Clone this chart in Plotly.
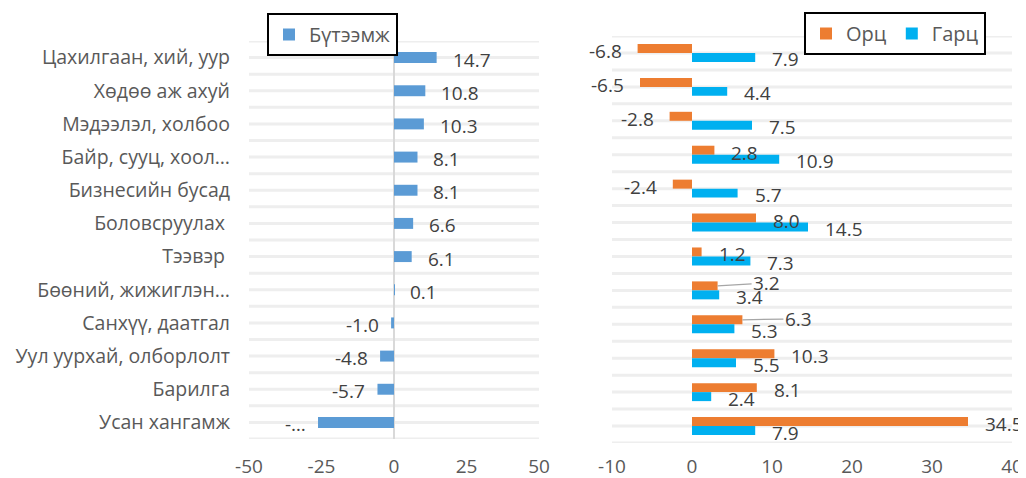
import plotly.graph_objects as go

categories = ["Цахилгаан, хий, уур", "Хөдөө аж ахуй", "Мэдээлэл, холбоо",
              "Байр, сууц, хоол…", "Бизнесийн бусад", "Боловсруулах\u00a0",
              "Тээвэр\u00a0", "Бөөний, жижиглэн…", "Санхүү, даатгал",
              "Уул уурхай, олборлолт", "Барилга", "Усан хангамж"]
productivity = [14.7, 10.8, 10.3, 8.1, 8.1, 6.6, 6.1, 0.1, -1.0, -4.8, -5.7, -26.2]
productivity_text = ["14.7", "10.8", "10.3", "8.1", "8.1", "6.6", "6.1", "0.1",
                     "-1.0", "-4.8", "-5.7", "-…"]
input_vals = [-6.8, -6.5, -2.8, 2.8, -2.4, 8.0, 1.2, 3.2, 6.3, 10.3, 8.1, 34.5]
output_vals = [7.9, 4.4, 7.5, 10.9, 5.7, 14.5, 7.3, 3.4, 5.3, 5.5, 2.4, 7.9]
left_ticks = [-50, -25, 0, 25, 50]
left_tick_text = ["-50", "-25", "0", "25", "50"]
right_ticks = [-10, 0, 10, 20, 30, 40]
right_tick_text = ["-10", "0", "10", "20", "30", "40"]

FONT = "Open Sans"
LBL = "#404040"
AX = "#595959"
GRID = "#eeeeee"
OFF = 8                      # page body margin in the browser
W, H = 1026 - OFF, 478 - OFF
VAL_SIZE = 19
CAT_SIZE = 19.5


def px(v):
    return (v - OFF) / W


def py(v):
    return 1 - (v - OFF) / H


fig = go.Figure()
fig.add_trace(go.Bar(y=categories, x=productivity, orientation="h", name="Бүтээмж",
                     marker_color="#5B9BD5", width=0.33, offset=-0.165,
                     xaxis="x", yaxis="y", legend="legend"))
fig.add_trace(go.Bar(y=categories, x=input_vals, orientation="h", name="Орц",
                     marker_color="#ED7D31", width=0.265, offset=-0.265,
                     xaxis="x2", yaxis="y2", legend="legend2"))
fig.add_trace(go.Bar(y=categories, x=output_vals, orientation="h", name="Гарц",
                     marker_color="#00B0F0", width=0.265, offset=0.0,
                     xaxis="x2", yaxis="y2", legend="legend2"))

ann = []
for c, v, t in zip(categories, productivity, productivity_text):
    pos = v >= 0
    ann.append(dict(x=v, y=c, xref="x", yref="y", text=t, showarrow=False,
                    xanchor="left" if pos else "right", xshift=14 if pos else -10,
                    yshift=-2, font=dict(size=VAL_SIZE, color=LBL, family=FONT)))

special = {7: (49, -3), 8: (56, -1)}
for i, (c, v) in enumerate(zip(categories, input_vals)):
    if i in special:
        ax, ay = special[i]
        ann.append(dict(x=v, y=c, xref="x2", yref="y2", text=f"{v:.1f}", showarrow=True,
                        arrowhead=0, arrowwidth=1.2, arrowcolor="#a6a6a6", ax=ax, ay=ay,
                        standoff=0, yshift=4.5,
                        font=dict(size=VAL_SIZE, color=LBL, family=FONT)))
        continue
    pos = v >= 0
    ann.append(dict(x=v, y=c, xref="x2", yref="y2", text=f"{v:.1f}", showarrow=False,
                    xanchor="left" if pos else "right", xshift=15 if pos else -14,
                    yshift=2, font=dict(size=VAL_SIZE, color=LBL, family=FONT)))
for c, v in zip(categories, output_vals):
    ann.append(dict(x=v, y=c, xref="x2", yref="y2", text=f"{v:.1f}", showarrow=False,
                    xanchor="left", xshift=15, yshift=-6.5,
                    font=dict(size=VAL_SIZE, color=LBL, family=FONT)))

shapes = []
n = len(categories)
for k in range(2 * n + 1):
    yv = -0.5 + k * 0.5
    for xr, yr in (("x domain", "y"), ("x2 domain", "y2")):
        shapes.append(dict(type="line", xref=xr, yref=yr, x0=0, x1=1, y0=yv, y1=yv,
                           line=dict(color=GRID, width=3), layer="below"))

fig.update_layout(
    template="none",
    width=W, height=H,
    margin=dict(l=0, r=0, t=0, b=0, autoexpand=False),
    paper_bgcolor="white", plot_bgcolor="white",
    barmode="overlay",
    font=dict(family=FONT, color=AX),
    xaxis=dict(domain=[px(249), px(539)], range=[-50, 50],
               tickmode="array", tickvals=left_ticks, ticktext=left_tick_text,
               showgrid=False, zeroline=True, zerolinecolor="#d9d9d9", zerolinewidth=2,
               showline=False, ticks="", automargin=False,
               tickfont=dict(size=VAL_SIZE, color=AX), ticklabelstandoff=14, anchor="y"),
    yaxis=dict(domain=[py(439), py(41)], range=[n - 0.5, -0.5], type="category",
               showgrid=False, zeroline=False, showline=False, ticks="", automargin=False,
               tickfont=dict(size=CAT_SIZE, color=AX), ticklabelstandoff=18, anchor="x"),
    xaxis2=dict(domain=[px(612), px(1012)], range=[-10, 40],
                tickmode="array", tickvals=right_ticks, ticktext=right_tick_text,
                showgrid=False, zeroline=False, showline=False, ticks="", automargin=False,
                tickfont=dict(size=VAL_SIZE, color=AX), ticklabelstandoff=10, anchor="y2"),
    yaxis2=dict(domain=[py(443), py(36)], range=[n - 0.5, -0.5], type="category",
                showgrid=False, zeroline=False, showline=False, ticks="", automargin=False,
                showticklabels=False, anchor="x2"),
    legend=dict(x=px(267), y=py(13), xanchor="left", yanchor="top",
                bordercolor="black", borderwidth=2, bgcolor="white",
                font=dict(size=20, color=AX), itemwidth=30),
    legend2=dict(x=px(804), y=py(12), xanchor="left", yanchor="top",
                 orientation="h", bordercolor="black", borderwidth=2, bgcolor="white",
                 font=dict(size=20, color=AX), itemwidth=30),
    annotations=ann,
    shapes=shapes,
    showlegend=True,
)

fig.write_html("out.html")
